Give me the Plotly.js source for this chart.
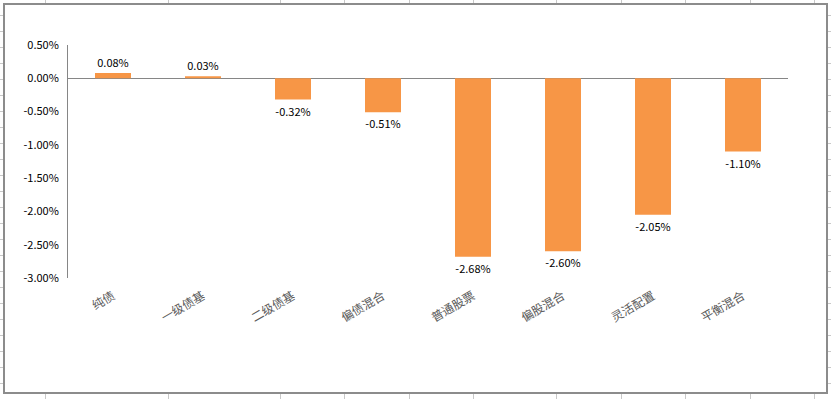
<!DOCTYPE html>
<html>
<head>
<meta charset="utf-8">
<script src="https://cdn.plot.ly/plotly-3.0.1.min.js"></script>
<style>
  html, body { margin: 0; padding: 0; width: 831px; height: 399px; overflow: hidden; background: #fff; }
  #rows { position: absolute; left: 0; top: 0; width: 831px; height: 399px;
    background: repeating-linear-gradient(to bottom, transparent 0px, transparent 15px, #c8c8c8 15px, #c8c8c8 16px); }
  #cols { position: absolute; left: 0; top: 0; width: 831px; height: 399px; }
  .col { position: absolute; top: 0; width: 1px; height: 399px; background: #c8c8c8; }
  #frame { position: absolute; left: 3px; top: 3px; width: 821px; height: 387px; border: 2px solid #8c8c8c; background: #fff; }
  #chart { position: absolute; left: 0; top: 0; width: 831px; height: 399px; }
</style>
</head>
<body>
<div id="rows"></div>
<div id="cols"></div>
<div id="frame"></div>
<div id="chart"></div>
<script>
// Data
const categories = ['纯债', '一级债基', '二级债基', '偏债混合', '普通股票', '偏股混合', '灵活配置', '平衡混合'];
const values = [0.08, 0.03, -0.32, -0.51, -2.68, -2.60, -2.05, -1.10];
const yTickVals = [0.5, 0, -0.5, -1, -1.5, -2, -2.5, -3];
const yTickText = ['0.50%', '0.00%', '-0.50%', '-1.00%', '-1.50%', '-2.00%', '-2.50%', '-3.00%'];

// spreadsheet column lines (decoration)
const colX = [45, 168, 280, 344, 409, 473, 556, 621, 685, 750, 814];
const colsDiv = document.getElementById('cols');
colX.forEach(x => { const d = document.createElement('div'); d.className = 'col'; d.style.left = x + 'px'; colsDiv.appendChild(d); });

const trace = {
  type: 'bar',
  x: categories,
  y: values,
  width: 0.4,
  marker: { color: '#F79646' },
  text: values.map(v => v.toFixed(2) + '%'),
  textposition: 'outside',
  cliponaxis: false,
  textfont: { family: 'Noto Sans CJK SC, sans-serif', size: 11, color: '#000' },
  hoverinfo: 'none'
};

const layout = {
  width: 831, height: 399,
  margin: { l: 68, r: 43, t: 45, b: 121 },
  paper_bgcolor: 'rgba(0,0,0,0)',
  plot_bgcolor: 'rgba(0,0,0,0)',
  showlegend: false,
  font: { family: 'Noto Sans CJK SC, sans-serif' },
  xaxis: {
    type: 'category',
    showline: false, showgrid: false, zeroline: false, ticks: '',
    tickangle: -30,
    tickfont: { family: 'Noto Sans CJK SC, sans-serif', size: 12, color: '#595959' },
    ticklabelstandoff: 8
  },
  yaxis: {
    range: [-3, 0.5],
    tickvals: yTickVals, ticktext: yTickText,
    showline: true, linecolor: '#868686', linewidth: 1,
    showgrid: false,
    zeroline: true, zerolinecolor: '#868686', zerolinewidth: 1,
    ticks: '',
    tickfont: { family: 'Noto Sans CJK SC, sans-serif', size: 11, color: '#000' },
    ticklabelstandoff: 6
  },
  bargap: 0.6
};

Plotly.newPlot('chart', [trace], layout, { staticPlot: true, displayModeBar: false });
</script>
</body>
</html>
